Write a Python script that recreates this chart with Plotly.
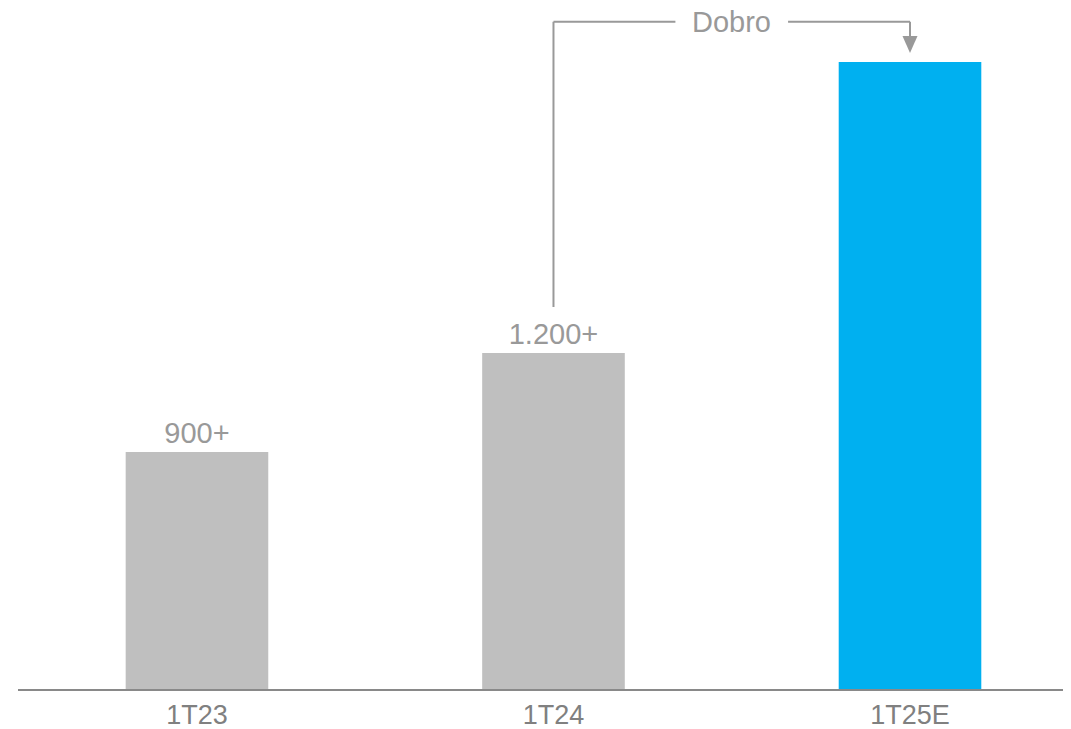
import plotly.graph_objects as go

categories = ["1T23", "1T24", "1T25E"]
values = [900, 1276, 2381]
value_labels = ["900+", "1.200+", ""]
bar_colors = ["#bfbfbf", "#bfbfbf", "#00b0f0"]
bracket_text = "Dobro"

# page body has an 8px margin; compensate so the figure fills the window
PAD = 8
W, H = 1071 - PAD, 729 - PAD
ML, MR, MT, MB = 18 - PAD, 0, 0, 40
y_max = 2586
FONT = "Liberation Sans, Arial, sans-serif"

fig = go.Figure()
fig.add_trace(go.Bar(
    x=list(range(len(categories))),
    y=values,
    marker=dict(color=bar_colors, line=dict(width=0)),
    width=0.4,
    text=value_labels,
    textposition="outside",
    textfont=dict(family=FONT, size=29, color="#999999"),
    cliponaxis=False,
    hoverinfo="skip",
))

line_col = "#999999"
src, dst = 1, 2
top_y = values[dst] * 1.064          # bracket height
src_y = values[src] * 1.137          # start just above label
tip_y = values[dst] * 1.0145         # arrow tip just above bar
head_y = values[dst] * 1.0415
mid = (src + dst) / 2
gap = 0.158

shapes = [
    dict(type="line", xref="x", yref="y", x0=src, x1=src, y0=src_y, y1=top_y,
         line=dict(color=line_col, width=2)),
    dict(type="line", xref="x", yref="y", x0=src, x1=mid - gap, y0=top_y, y1=top_y,
         line=dict(color=line_col, width=2)),
    dict(type="line", xref="x", yref="y", x0=mid + gap, x1=dst, y0=top_y, y1=top_y,
         line=dict(color=line_col, width=2)),
    dict(type="line", xref="x", yref="y", x0=dst, x1=dst, y0=top_y, y1=head_y,
         line=dict(color=line_col, width=2)),
    dict(type="path", xref="x", yref="y",
         path=f"M {dst-0.021},{head_y} L {dst+0.021},{head_y} L {dst},{tip_y} Z",
         fillcolor=line_col, line=dict(color=line_col, width=0)),
]

fig.update_layout(
    width=W, height=H,
    margin=dict(l=ML, r=MR, t=MT, b=MB, autoexpand=False),
    paper_bgcolor="white", plot_bgcolor="white",
    showlegend=False,
    shapes=shapes,
    annotations=[dict(x=mid, y=top_y, xref="x", yref="y", text=bracket_text,
                      showarrow=False,
                      font=dict(family=FONT, size=29, color="#999999"))],
    xaxis=dict(
        tickmode="array", tickvals=list(range(len(categories))), ticktext=categories,
        range=[-0.502, 2.4516],
        showgrid=False, zeroline=False, automargin=False,
        showline=True, linecolor="#898989", linewidth=2,
        ticks="", ticklabelstandoff=1,
        tickfont=dict(family=FONT, size=27, color="#808080"),
        fixedrange=True,
    ),
    yaxis=dict(range=[0, y_max], visible=False, fixedrange=True, automargin=False),
)

fig.write_html("out.html")
